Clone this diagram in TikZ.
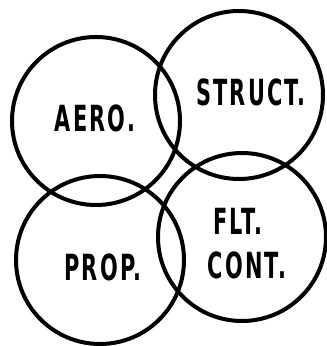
\documentclass[tikz,border=0pt]{standalone}
\usepackage{fontspec}
\newfontfamily\labelfont[FakeStretch=0.58,LetterSpace=6]{DejaVu Sans}
\tikzset{area/.style={draw,circle,line width=4pt,minimum size=168pt,inner sep=0pt},
  tag/.style={font=\labelfont\bfseries\fontsize{36}{38}\selectfont,inner sep=0pt}}

\begin{document}
\begin{tikzpicture}[x=1pt,y=-1pt]
    \useasboundingbox (0,0) rectangle (327,346);
    % the four disciplines
    \node[area] (aero)   at (96,121)  {};
    \node[area] (struct) at (239,95)  {};
    \node[area] (prop)   at (100,260) {};
    \node[area] (flt)    at (242,237) {};
    % labels
    \node[tag] (aerotxt)   at (95,118)  {AERO.};
    \node[tag] (structtxt) at (251,92)  {STRUCT.};
    \node[tag] (proptxt)   at (103,267) {PROP.};
    \node[tag] (flttxt)    at (238,221) {FLT.};
    \node[tag] (conttxt)   at (247,265) {CONT.};
\end{tikzpicture}
\end{document}
